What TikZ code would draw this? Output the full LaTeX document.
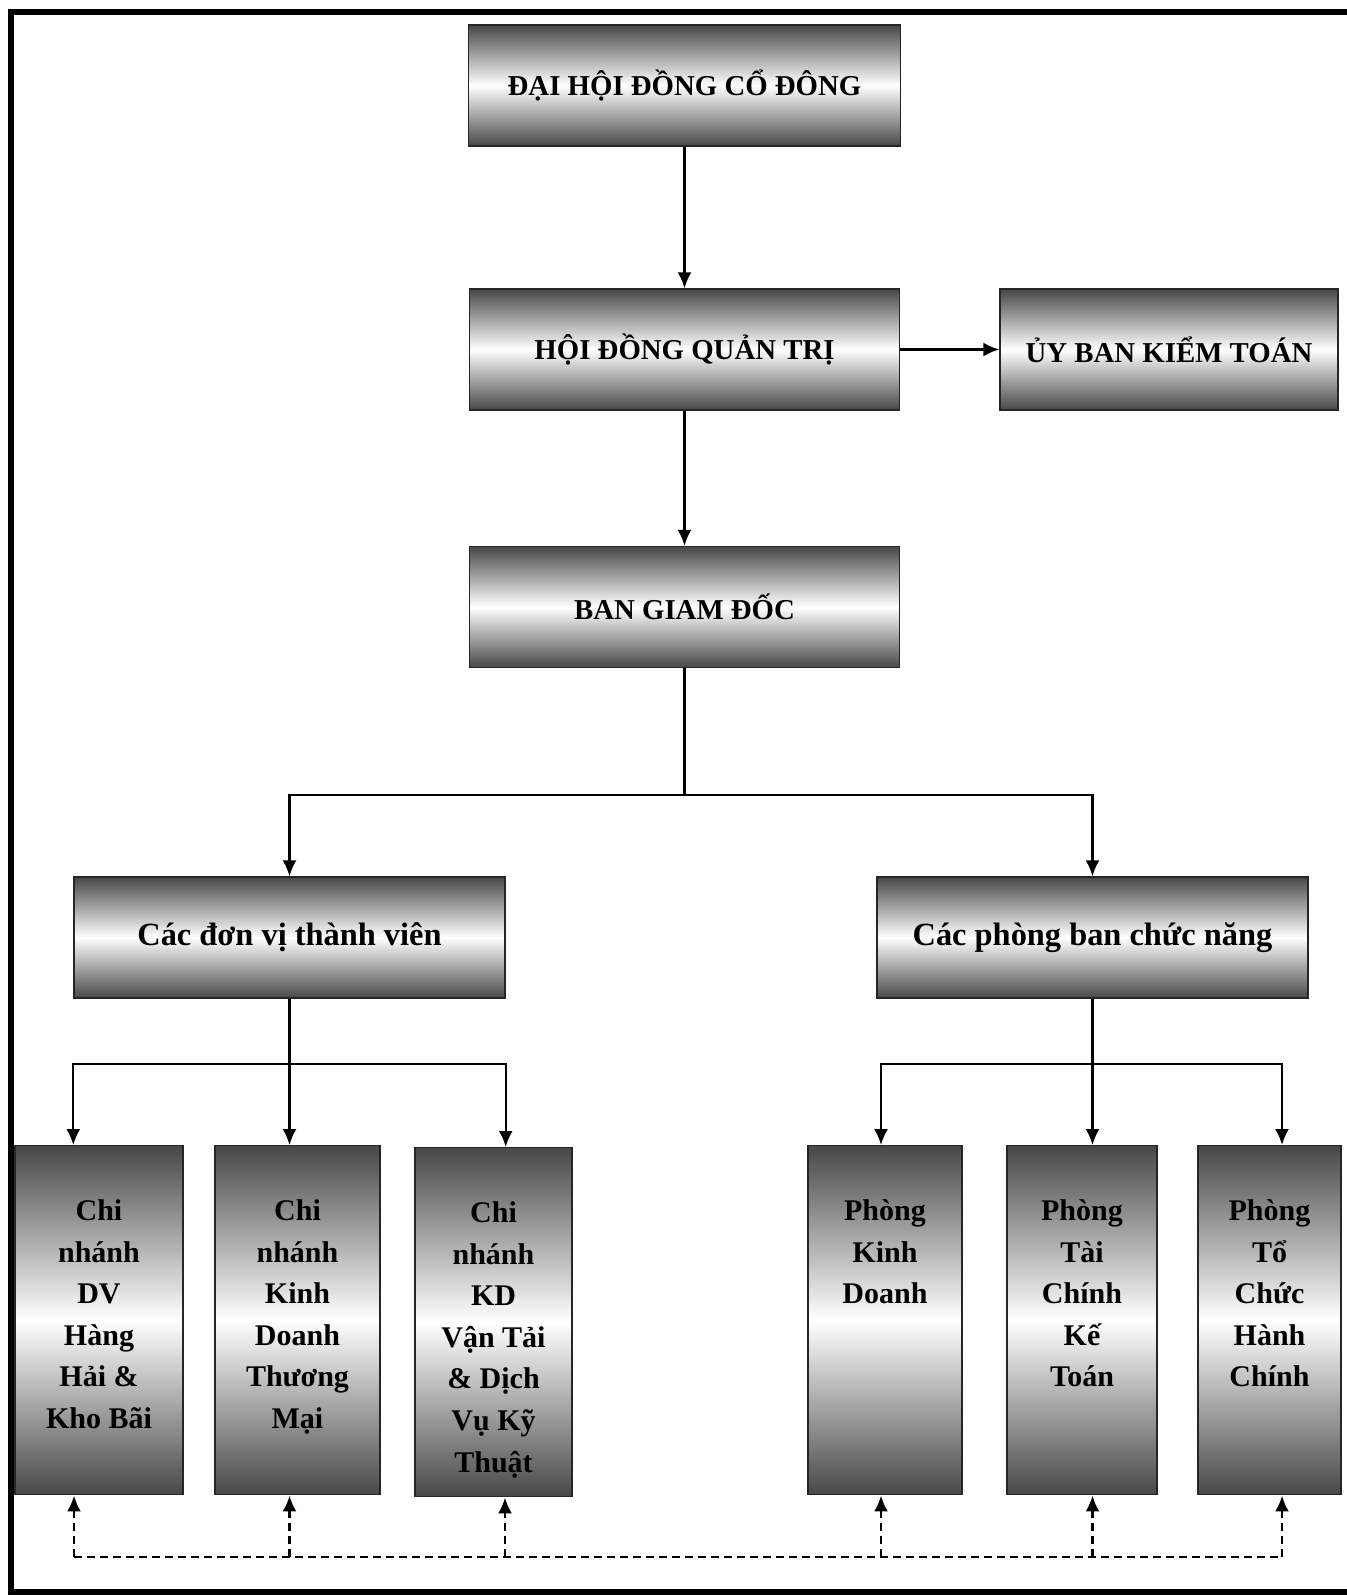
\documentclass[tikz,border=0pt]{standalone}
\usepackage{fontspec}
\setmainfont{Liberation Serif}
\usepackage{tikz}
\usetikzlibrary{arrows,arrows.meta,calc}

\newcommand{\coltext}[1]{\parbox[c][174.5pt][t]{68pt}{\centering\vspace*{27pt}#1}}

\begin{document}
\begin{tikzpicture}[x=0.5pt,y=-0.5pt,
  box/.style={draw=black!85,line width=0.7pt,top color=black!72,bottom color=black!72,
    middle color=white,font=\fontsize{15}{20.8}\selectfont\bfseries,
    minimum height=60.5pt,inner sep=0pt},
  capbox/.style={box,font=\fontsize{14.4}{17}\selectfont\bfseries},
  midbox/.style={box,font=\fontsize{16.2}{19}\selectfont\bfseries},
  colbox/.style={box,anchor=north,minimum height=174.5pt},
  arr/.style={-{Latex[length=8pt,width=7pt]},line width=1.1pt},
  dline/.style={line width=1.4pt,dash pattern=on 4pt off 2.5pt},
  darr/.style={dline,-{Latex[length=8pt,width=7pt]}}]

  \useasboundingbox (0,0) rectangle (1346,1595);
  \draw[line width=2.6pt] (11,12) rectangle (1354,1592);

  % upper levels
  \node[capbox,minimum width=216pt] (dhd) at (684.5,85.5) {ĐẠI HỘI ĐỒNG CỔ ĐÔNG};
  \node[capbox,minimum width=215pt] (hdqt) at (684.5,349.5) {HỘI ĐỒNG QUẢN TRỊ};
  \node[capbox,minimum width=169pt] (ubkt) at (1169,349.5) {ỦY BAN KIỂM TOÁN};
  \node[capbox,minimum width=215pt] (bgd) at (684.5,607) {BAN GIAM ĐỐC};

  \node[midbox,minimum width=215.5pt] (dvtv) at (289.5,937.5) {Các đơn vị thành viên};
  \node[midbox,minimum width=215.5pt] (pbcn) at (1092.5,937.5) {Các phòng ban chức năng};

  % branches
  \node[colbox,minimum width=84pt] (b1) at (99,1145) {\coltext{Chi\\nhánh\\DV\\Hàng\\Hải \&\\Kho Bãi}};
  \node[colbox,minimum width=82.5pt] (b2) at (297.5,1145) {\coltext{Chi\\nhánh\\Kinh\\Doanh\\Thương\\Mại}};
  \node[colbox,minimum width=78.5pt] (b3) at (493.5,1147) {\coltext{Chi\\nhánh\\KD\\Vận Tải\\\& Dịch\\Vụ Kỹ\\Thuật}};

  % departments
  \node[colbox,minimum width=77pt] (p1) at (885,1145) {\coltext{Phòng\\Kinh\\Doanh}};
  \node[colbox,minimum width=75pt] (p2) at (1082,1145) {\coltext{Phòng\\Tài\\Chính\\Kế\\Toán}};
  \node[colbox,minimum width=71.5pt] (p3) at (1269.5,1145) {\coltext{Phòng\\Tổ\\Chức\\Hành\\Chính}};

  \draw[arr] (dhd.south) -- (hdqt.north);
  \draw[arr] (hdqt.east) -- (ubkt.west);
  \draw[arr] (hdqt.south) -- (bgd.north);

  \coordinate (bus) at (684.5,795);
  \draw[line width=1.1pt] (bgd.south) -- (bus);
  \draw[arr] (bus) -| (dvtv.north);
  \draw[arr] (bus) -| (pbcn.north);

  \coordinate (lbus) at (289.5,1064);
  \draw[arr] (dvtv.south) -- (b2.north -| dvtv.south);
  \draw[arr] (lbus) -| (b1.north -| dvtv.west);
  \draw[arr] (lbus) -| (b3.north -| dvtv.east);

  \coordinate (rbus) at (1092.5,1064);
  \coordinate (pl) at (881,1064);
  \coordinate (pr) at (1282,1064);
  \draw[arr] (pbcn.south) -- (p2.north -| pbcn.south);
  \draw[arr] (rbus) -| (p1.north -| pl);
  \draw[arr] (rbus) -| (p3.north -| pr);

  % dashed links
  \coordinate (d1) at (74,1557);
  \coordinate (d2) at (289.5,1557);
  \coordinate (d3) at (505,1557);
  \coordinate (d4) at (881,1557);
  \coordinate (d5) at (1092.5,1557);
  \coordinate (d6) at (1282,1557);
  \draw[dline] (d1) -- (d6);
  \foreach \b/\d in {b1/d1,b2/d2,b3/d3,p1/d4,p2/d5,p3/d6}
    \draw[darr] (\d) -- (\b.south -| \d);

\end{tikzpicture}
\end{document}
